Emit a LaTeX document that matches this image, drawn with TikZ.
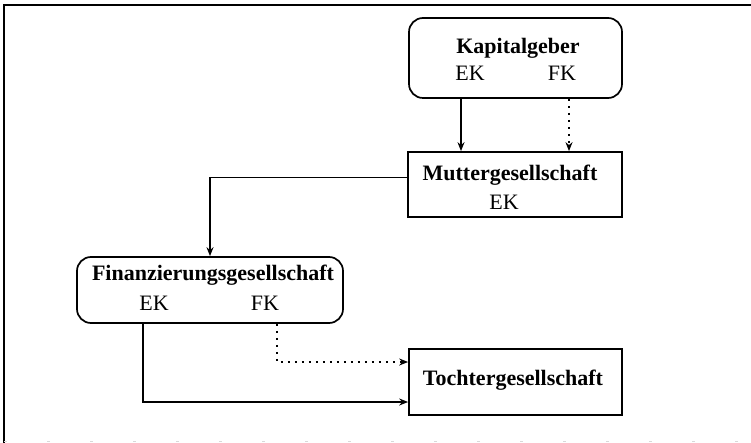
\documentclass[tikz,border=0pt]{standalone}
\usepackage{fontspec}
\setmainfont{Liberation Serif}
\usetikzlibrary{arrows.meta}
\begin{document}
\begin{tikzpicture}[x=1pt,y=-1pt,
  boxline/.style={draw, line width=1.7pt, inner sep=0pt},
  rbox/.style={boxline, rounded corners=14pt},
  lbl/.style={inner sep=0pt, font=\fontsize{22}{26}\selectfont},
  blbl/.style={lbl, font=\fontsize{22}{26}\selectfont\bfseries},
  conn/.style={line width=1.4pt, -{Stealth[length=9pt,width=7pt]}},
  dotconn/.style={conn, dash pattern=on 2.5pt off 4.5pt}]
\useasboundingbox (0,0) rectangle (751,443);
% frame
\draw[line width=1.4pt] (4,443) -- (4,5) -- (751,5);
\draw[line width=0.6pt, gray!30, dash pattern=on 3pt off 40pt] (4,441.5) -- (751,441.5);
% boxes
\node[rbox, minimum width=213pt, minimum height=80pt] (kap) at (515.5,58) {};
\node[boxline, minimum width=214pt, minimum height=65pt] (mut) at (515,184.5) {};
\node[rbox, minimum width=266pt, minimum height=66pt] (fin) at (210,290) {};
\node[boxline, minimum width=213pt, minimum height=66pt] (toch) at (515.5,382) {};
% texts
\node[blbl] (kapt) at (518,48) {Kapitalgeber};
\node[lbl] (kapek) at (470,73) {EK};
\node[lbl] (kapfk) at (562,73) {FK};
\node[blbl] (mutt) at (510,175) {Muttergesellschaft};
\node[lbl] (mutek) at (504,202) {EK};
\node[blbl] (fint) at (213,275) {Finanzierungsgesellschaft};
\node[lbl] (finek) at (154,303) {EK};
\node[lbl] (finfk) at (265,303) {FK};
\node[blbl] (tocht) at (513,380) {Tochtergesellschaft};
% connectors
\draw[conn] ([xshift=-54.5pt]kap.south) -- ([xshift=-54pt]mut.north);
\draw[dotconn] ([xshift=53.5pt]kap.south) -- ([xshift=54pt]mut.north);
\draw[conn] ([yshift=7pt]mut.west) -| (fin.north);
\draw[conn] ([xshift=-67pt]fin.south) |- ([yshift=-20pt]toch.west);
\draw[dotconn] ([xshift=67pt]fin.south) |- ([yshift=20pt]toch.west);
\end{tikzpicture}
\end{document}
